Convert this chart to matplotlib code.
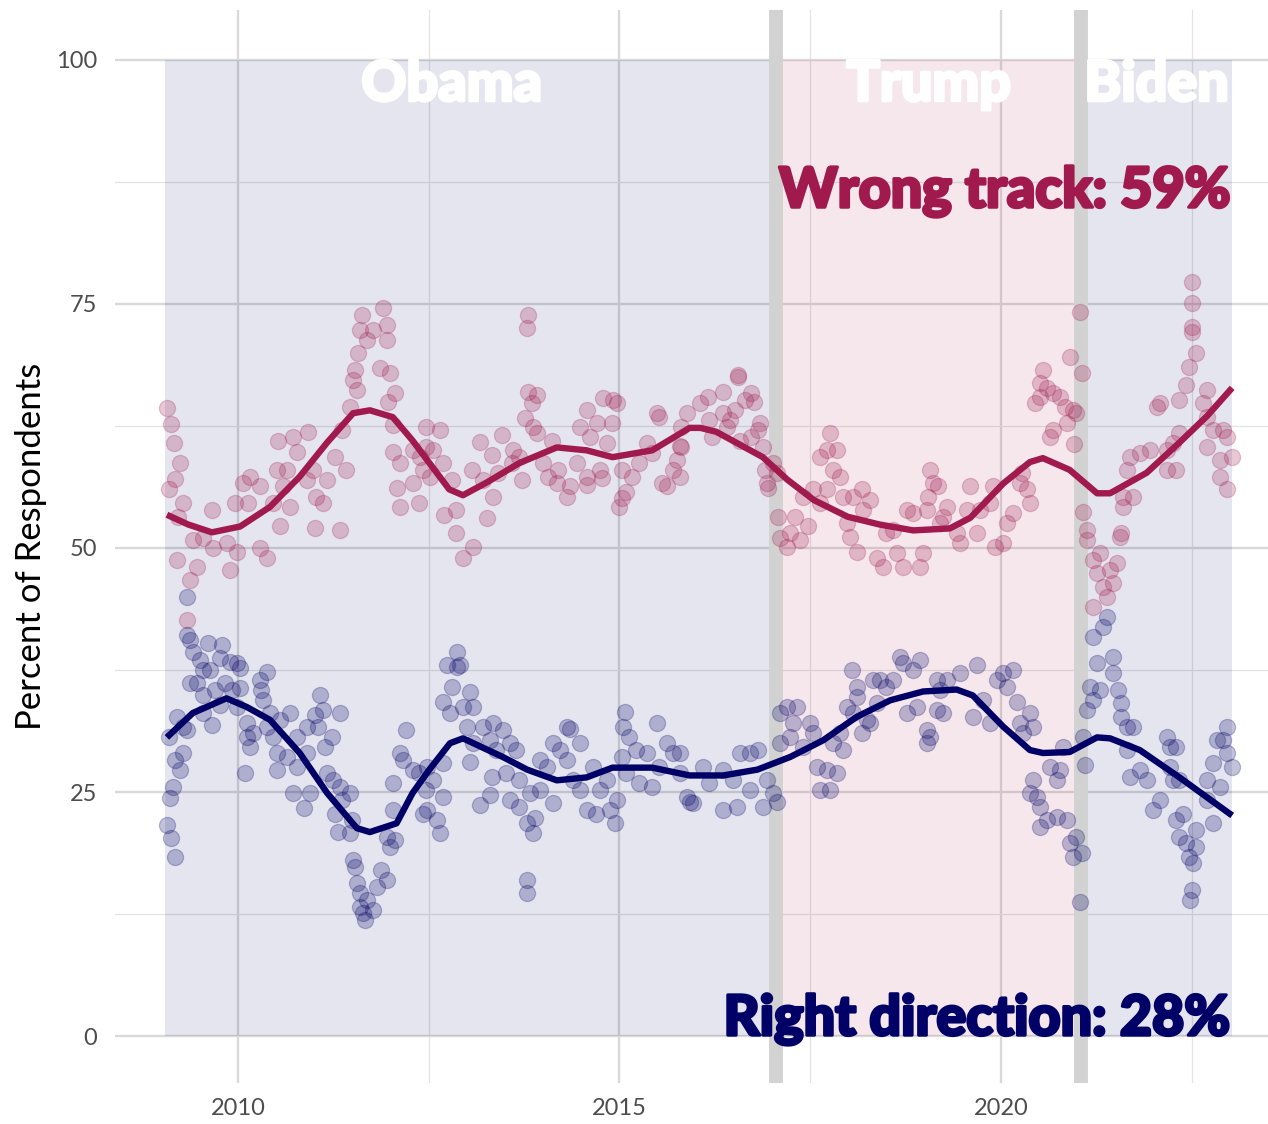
import numpy as np
import matplotlib.pyplot as plt
import matplotlib.patheffects as pe

# poll points: (year, percent)
wrong_points = [
    (2009.07, 64.3), (2009.10, 56.0), (2009.13, 62.7), (2009.16, 60.8), (2009.17, 57.1),
    (2009.20, 48.8), (2009.21, 53.2), (2009.24, 58.7), (2009.28, 54.6), (2009.34, 42.6),
    (2009.37, 46.7), (2009.41, 50.8), (2009.46, 48.0), (2009.54, 51.0), (2009.66, 53.9),
    (2009.67, 50.0), (2009.86, 50.5), (2009.90, 47.7), (2009.96, 54.6), (2009.99, 49.6),
    (2010.07, 56.7), (2010.13, 54.6), (2010.16, 57.3), (2010.29, 56.3), (2010.29, 50.0),
    (2010.38, 49.0), (2010.46, 54.6), (2010.51, 58.0), (2010.52, 61.0), (2010.55, 52.2),
    (2010.59, 56.3), (2010.65, 58.0), (2010.68, 54.2), (2010.72, 61.4), (2010.77, 59.8),
    (2010.90, 57.0), (2010.92, 61.9), (2010.98, 58.0), (2011.01, 52.0), (2011.03, 55.2),
    (2011.11, 54.6), (2011.17, 57.0), (2011.27, 59.3), (2011.34, 51.8), (2011.36, 62.1),
    (2011.42, 58.0), (2011.47, 64.4), (2011.51, 67.2), (2011.53, 68.2), (2011.56, 66.2),
    (2011.57, 70.0), (2011.60, 72.3), (2011.63, 73.9), (2011.69, 71.3), (2011.77, 72.3),
    (2011.86, 68.4), (2011.90, 74.6), (2011.95, 72.8), (2011.96, 71.3), (2011.97, 65.0),
    (2011.99, 67.9), (2012.03, 62.6), (2012.03, 59.8), (2012.06, 65.9), (2012.09, 56.1),
    (2012.12, 58.7), (2012.12, 54.2), (2012.29, 60.0), (2012.29, 56.7), (2012.38, 54.6),
    (2012.39, 59.3), (2012.42, 58.0), (2012.47, 60.3), (2012.47, 62.4), (2012.52, 57.3),
    (2012.56, 60.0), (2012.65, 62.1), (2012.69, 58.7), (2012.70, 53.4), (2012.80, 57.0),
    (2012.86, 53.9), (2012.86, 51.5), (2012.95, 49.0), (2013.07, 58.0), (2013.08, 50.1),
    (2013.17, 60.9), (2013.21, 57.0), (2013.26, 53.1), (2013.33, 59.5), (2013.34, 55.2),
    (2013.41, 57.7), (2013.46, 61.6), (2013.59, 58.7), (2013.60, 60.0), (2013.69, 59.3),
    (2013.72, 57.0), (2013.76, 63.3), (2013.79, 72.5), (2013.80, 73.9), (2013.80, 66.0),
    (2013.85, 64.8), (2013.87, 62.4), (2013.92, 65.7), (2013.92, 61.8), (2014.00, 58.7),
    (2014.06, 57.3), (2014.12, 61.0), (2014.18, 56.7), (2014.19, 58.0), (2014.31, 55.2),
    (2014.35, 56.3), (2014.44, 58.7), (2014.48, 62.4), (2014.57, 64.1), (2014.57, 57.3),
    (2014.58, 56.5), (2014.61, 61.4), (2014.71, 62.8), (2014.75, 58.0), (2014.77, 57.2),
    (2014.79, 65.4), (2014.84, 60.8), (2014.90, 62.8), (2014.92, 65.2), (2014.97, 64.8),
    (2015.00, 54.2), (2015.03, 55.1), (2015.04, 58.0), (2015.09, 55.7), (2015.17, 57.3),
    (2015.26, 58.7), (2015.36, 60.8), (2015.43, 59.7), (2015.49, 63.8), (2015.52, 63.4),
    (2015.56, 56.7), (2015.62, 56.3), (2015.70, 58.0), (2015.75, 59.0), (2015.79, 60.4),
    (2015.79, 57.3), (2015.81, 62.4), (2015.81, 60.3), (2015.88, 63.8), (2016.05, 64.8),
    (2016.16, 65.5), (2016.18, 63.1), (2016.22, 61.4), (2016.36, 66.0), (2016.36, 63.8),
    (2016.41, 62.4), (2016.45, 63.1), (2016.51, 64.1), (2016.55, 67.7), (2016.56, 67.5),
    (2016.58, 61.0), (2016.65, 65.2), (2016.72, 65.9), (2016.72, 61.4), (2016.76, 65.0),
    (2016.81, 62.1), (2016.84, 62.8), (2016.88, 60.3), (2016.91, 58.0), (2016.93, 56.7),
    (2016.95, 56.1), (2017.01, 58.7), (2017.06, 57.7), (2017.08, 53.2), (2017.10, 51.0),
    (2017.20, 50.1), (2017.24, 51.5), (2017.30, 53.2), (2017.37, 50.8), (2017.41, 55.2),
    (2017.47, 52.2), (2017.54, 56.0), (2017.63, 59.3), (2017.63, 54.6), (2017.72, 60.0),
    (2017.72, 56.0), (2017.76, 61.8), (2017.80, 58.0), (2017.85, 60.0), (2017.89, 57.3),
    (2017.93, 55.2), (2017.98, 52.6), (2018.02, 51.1), (2018.06, 55.2), (2018.11, 49.6),
    (2018.18, 56.0), (2018.19, 53.9), (2018.28, 54.9), (2018.38, 49.0), (2018.45, 48.1),
    (2018.50, 51.5), (2018.58, 51.8), (2018.64, 49.5), (2018.72, 48.1), (2018.77, 53.9),
    (2018.85, 53.6), (2018.94, 48.1), (2018.98, 49.5), (2019.03, 53.9), (2019.05, 55.2),
    (2019.07, 58.0), (2019.11, 56.7), (2019.18, 56.3), (2019.20, 52.6), (2019.24, 53.2),
    (2019.29, 54.2), (2019.42, 51.5), (2019.46, 50.5), (2019.55, 53.9), (2019.59, 56.3),
    (2019.69, 51.5), (2019.73, 53.9), (2019.86, 54.6), (2019.90, 56.3), (2019.92, 50.1),
    (2020.03, 50.5), (2020.08, 52.6), (2020.16, 53.6), (2020.25, 56.7), (2020.27, 57.7),
    (2020.34, 56.0), (2020.38, 54.6), (2020.45, 64.8), (2020.51, 65.5), (2020.51, 66.9),
    (2020.55, 68.2), (2020.60, 66.4), (2020.64, 61.4), (2020.68, 65.9), (2020.68, 62.1),
    (2020.77, 65.5), (2020.84, 64.4), (2020.86, 62.8), (2020.90, 69.6), (2020.94, 64.1),
    (2020.96, 60.6), (2020.99, 63.8), (2021.03, 74.2), (2021.06, 67.9), (2021.08, 53.7),
    (2021.13, 51.8), (2021.13, 50.8), (2021.21, 48.8), (2021.21, 44.0), (2021.26, 47.4),
    (2021.30, 49.5), (2021.34, 46.0), (2021.39, 45.0), (2021.43, 47.7), (2021.47, 46.4),
    (2021.52, 48.5), (2021.56, 51.1), (2021.58, 51.5), (2021.60, 54.2), (2021.60, 55.2),
    (2021.65, 58.0), (2021.69, 59.3), (2021.73, 55.2), (2021.82, 59.7), (2021.95, 60.0),
    (2022.04, 64.4), (2022.08, 64.8), (2022.17, 58.0), (2022.17, 60.0), (2022.25, 60.8),
    (2022.30, 58.0), (2022.34, 61.8), (2022.34, 65.2), (2022.43, 66.7), (2022.47, 68.5),
    (2022.50, 75.1), (2022.50, 77.2), (2022.51, 72.1), (2022.51, 72.6), (2022.56, 70.0),
    (2022.65, 64.8), (2022.70, 66.2), (2022.70, 63.4), (2022.70, 60.3), (2022.78, 62.1),
    (2022.87, 59.0), (2022.87, 57.3), (2022.91, 62.1), (2022.96, 61.4), (2022.96, 56.0),
    (2023.03, 59.3),
]

right_points = [
    (2009.07, 21.6), (2009.10, 30.6), (2009.11, 24.4), (2009.13, 20.3), (2009.15, 25.5),
    (2009.17, 18.3), (2009.18, 28.3), (2009.20, 32.7), (2009.24, 27.3), (2009.28, 31.7),
    (2009.28, 29.0), (2009.33, 45.0), (2009.33, 31.4), (2009.34, 41.1), (2009.37, 40.6),
    (2009.37, 36.2), (2009.41, 39.3), (2009.47, 36.2), (2009.50, 38.5), (2009.54, 37.5),
    (2009.54, 34.9), (2009.54, 33.1), (2009.61, 40.3), (2009.63, 37.5), (2009.66, 31.9),
    (2009.70, 35.5), (2009.76, 38.7), (2009.76, 33.9), (2009.79, 40.1), (2009.83, 36.2),
    (2009.90, 38.3), (2009.92, 35.5), (2009.99, 38.2), (2009.99, 33.7), (2010.03, 37.7),
    (2010.03, 35.7), (2010.09, 26.9), (2010.12, 32.1), (2010.12, 30.6), (2010.16, 29.6),
    (2010.20, 31.0), (2010.29, 36.5), (2010.30, 35.5), (2010.33, 34.4), (2010.38, 37.3),
    (2010.38, 31.7), (2010.42, 33.1), (2010.46, 30.6), (2010.51, 29.0), (2010.51, 27.3),
    (2010.55, 32.4), (2010.64, 28.6), (2010.68, 33.1), (2010.72, 24.9), (2010.77, 30.6),
    (2010.77, 27.6), (2010.87, 23.4), (2010.90, 31.7), (2010.90, 29.0), (2010.94, 24.9),
    (2011.01, 32.9), (2011.05, 31.7), (2011.07, 34.9), (2011.11, 33.4), (2011.14, 29.6),
    (2011.17, 26.9), (2011.23, 30.6), (2011.25, 26.2), (2011.27, 22.8), (2011.31, 20.9),
    (2011.34, 33.1), (2011.34, 25.5), (2011.36, 24.2), (2011.47, 24.9), (2011.47, 20.8),
    (2011.49, 22.1), (2011.51, 18.0), (2011.53, 17.3), (2011.56, 15.7), (2011.60, 14.7),
    (2011.60, 13.2), (2011.64, 12.6), (2011.66, 11.9), (2011.69, 13.9), (2011.77, 12.9),
    (2011.82, 15.3), (2011.88, 17.0), (2011.95, 16.0), (2011.95, 20.4), (2011.99, 19.4),
    (2012.03, 23.2), (2012.03, 25.9), (2012.06, 20.1), (2012.12, 29.0), (2012.16, 28.3),
    (2012.21, 31.4), (2012.29, 27.3), (2012.38, 26.9), (2012.42, 22.8), (2012.47, 25.2),
    (2012.48, 27.6), (2012.48, 23.2), (2012.56, 26.2), (2012.61, 22.1), (2012.65, 20.8),
    (2012.69, 24.5), (2012.69, 28.0), (2012.69, 34.2), (2012.74, 38.0), (2012.78, 33.1),
    (2012.80, 35.8), (2012.87, 39.3), (2012.87, 37.8), (2012.91, 38.0), (2012.95, 33.7),
    (2013.00, 31.7), (2013.04, 35.2), (2013.04, 28.1), (2013.08, 33.7), (2013.08, 30.0),
    (2013.17, 23.7), (2013.21, 31.7), (2013.30, 24.7), (2013.30, 30.3), (2013.33, 26.5),
    (2013.34, 32.1), (2013.38, 29.3), (2013.47, 31.4), (2013.52, 26.9), (2013.56, 30.0),
    (2013.56, 24.2), (2013.65, 29.3), (2013.69, 26.2), (2013.69, 23.5), (2013.79, 21.8),
    (2013.79, 16.0), (2013.79, 14.7), (2013.83, 24.9), (2013.87, 20.8), (2013.90, 22.3),
    (2013.96, 25.2), (2013.96, 28.3), (2014.05, 27.6), (2014.13, 23.9), (2014.13, 30.0),
    (2014.22, 29.3), (2014.31, 31.7), (2014.31, 28.3), (2014.35, 31.5), (2014.39, 26.2),
    (2014.48, 30.0), (2014.48, 25.2), (2014.57, 23.2), (2014.65, 27.6), (2014.70, 22.8),
    (2014.75, 25.2), (2014.84, 26.2), (2014.88, 23.2), (2014.94, 21.8), (2014.97, 24.2),
    (2015.03, 28.6), (2015.05, 31.7), (2015.07, 33.2), (2015.09, 26.9), (2015.13, 30.6),
    (2015.22, 29.3), (2015.26, 25.9), (2015.36, 29.0), (2015.43, 25.5), (2015.49, 32.1),
    (2015.52, 27.6), (2015.62, 30.0), (2015.70, 29.0), (2015.79, 26.9), (2015.79, 29.0),
    (2015.88, 24.5), (2015.92, 24.0), (2015.96, 23.9), (2016.09, 27.6), (2016.18, 25.9),
    (2016.36, 23.2), (2016.36, 27.3), (2016.49, 26.2), (2016.54, 23.5), (2016.58, 29.0),
    (2016.71, 29.0), (2016.71, 25.2), (2016.81, 29.3), (2016.88, 23.5), (2016.93, 26.2),
    (2017.01, 24.9), (2017.06, 24.0), (2017.10, 30.0), (2017.10, 33.1), (2017.20, 33.7),
    (2017.24, 30.6), (2017.28, 32.1), (2017.33, 33.7), (2017.41, 29.6), (2017.50, 32.1),
    (2017.54, 31.0), (2017.59, 27.6), (2017.63, 25.2), (2017.72, 27.3), (2017.76, 25.2),
    (2017.80, 30.0), (2017.85, 26.9), (2017.89, 31.0), (2017.93, 29.3), (2017.98, 33.7),
    (2018.05, 37.5), (2018.06, 33.1), (2018.11, 35.8), (2018.11, 34.7), (2018.18, 31.0),
    (2018.24, 32.4), (2018.28, 32.1), (2018.32, 36.5), (2018.37, 34.1), (2018.41, 36.5),
    (2018.50, 35.8), (2018.58, 36.5), (2018.68, 38.8), (2018.72, 38.2), (2018.77, 33.1),
    (2018.85, 37.5), (2018.90, 33.7), (2018.94, 38.5), (2019.03, 31.4), (2019.03, 30.0),
    (2019.07, 30.6), (2019.16, 36.5), (2019.16, 33.4), (2019.20, 35.5), (2019.24, 33.1),
    (2019.29, 36.5), (2019.46, 37.2), (2019.63, 32.7), (2019.69, 38.0), (2019.76, 34.4),
    (2019.86, 32.1), (2019.95, 36.5), (2020.03, 37.2), (2020.08, 35.8), (2020.16, 37.5),
    (2020.21, 34.2), (2020.25, 32.1), (2020.29, 31.0), (2020.38, 33.1), (2020.38, 24.9),
    (2020.42, 31.7), (2020.42, 26.2), (2020.47, 24.5), (2020.51, 23.5), (2020.51, 21.4),
    (2020.60, 22.1), (2020.64, 27.6), (2020.73, 26.2), (2020.73, 22.4), (2020.77, 27.3),
    (2020.81, 29.6), (2020.86, 22.1), (2020.90, 19.8), (2020.94, 18.3), (2020.99, 20.4),
    (2021.03, 13.7), (2021.06, 18.8), (2021.08, 30.6), (2021.10, 27.8), (2021.13, 33.4),
    (2021.17, 35.8), (2021.21, 34.4), (2021.21, 40.9), (2021.26, 38.2), (2021.30, 35.5),
    (2021.34, 41.9), (2021.39, 42.9), (2021.47, 38.8), (2021.47, 37.2), (2021.53, 35.5),
    (2021.58, 34.1), (2021.58, 32.7), (2021.65, 31.7), (2021.65, 29.3), (2021.69, 26.5),
    (2021.73, 31.7), (2021.82, 27.3), (2021.91, 26.2), (2021.99, 23.2), (2022.08, 24.2),
    (2022.17, 30.6), (2022.21, 29.6), (2022.21, 27.6), (2022.25, 26.2), (2022.29, 22.1),
    (2022.30, 29.6), (2022.33, 20.4), (2022.34, 26.2), (2022.38, 22.8), (2022.43, 19.8),
    (2022.47, 18.3), (2022.48, 13.9), (2022.50, 15.0), (2022.52, 17.7), (2022.56, 19.4),
    (2022.56, 21.1), (2022.70, 26.2), (2022.70, 24.2), (2022.78, 21.8), (2022.78, 28.0),
    (2022.83, 30.3), (2022.87, 25.5), (2022.91, 30.3), (2022.96, 31.7), (2022.96, 29.0),
    (2023.03, 27.6),
]

# smoothed trend lines
wrong_trend = [
    (2009.07, 53.4), (2009.35, 52.4), (2009.66, 51.6), (2010.03, 52.2), (2010.42, 54.2),
    (2010.81, 57.3), (2011.17, 60.8), (2011.51, 63.8), (2011.73, 64.1), (2012.03, 63.4),
    (2012.29, 61.0), (2012.51, 58.7), (2012.77, 56.0), (2012.95, 55.4), (2013.26, 56.7),
    (2013.69, 58.7), (2014.18, 60.3), (2014.57, 60.0), (2014.91, 59.3), (2015.43, 60.0),
    (2015.92, 62.3), (2016.06, 62.3), (2016.27, 61.9), (2016.88, 59.3), (2017.20, 57.0),
    (2017.55, 54.9), (2017.99, 53.2), (2018.41, 52.4), (2018.85, 51.8), (2019.33, 52.0),
    (2019.60, 53.1), (2020.03, 56.6), (2020.38, 58.8), (2020.55, 59.2), (2020.90, 58.0),
    (2021.26, 55.6), (2021.43, 55.6), (2021.91, 57.7), (2022.34, 60.8), (2022.70, 63.5),
    (2023.03, 66.4),
]

right_trend = [
    (2009.07, 30.6), (2009.41, 33.1), (2009.85, 34.6), (2010.12, 33.7), (2010.42, 32.4),
    (2010.81, 29.0), (2011.17, 24.9), (2011.56, 21.3), (2011.73, 20.9), (2012.08, 21.8),
    (2012.29, 24.9), (2012.51, 27.3), (2012.78, 30.0), (2012.95, 30.5), (2013.47, 28.6),
    (2013.79, 27.3), (2014.18, 26.2), (2014.57, 26.5), (2014.91, 27.5), (2015.43, 27.5),
    (2015.92, 26.7), (2016.36, 26.7), (2016.81, 27.3), (2017.24, 28.6), (2017.67, 30.3),
    (2018.11, 32.7), (2018.55, 34.4), (2018.98, 35.3), (2019.42, 35.5), (2019.63, 34.9),
    (2020.03, 31.7), (2020.38, 29.3), (2020.55, 29.0), (2020.90, 29.1), (2021.26, 30.6),
    (2021.43, 30.5), (2021.82, 29.3), (2022.34, 26.5), (2023.03, 22.6),
]

terms = ['Obama', 'Trump', 'Biden']
term_start = [2009.05, 2017.05, 2021.05]
term_end = [2017.05, 2021.05, 2023.03]
term_label_x = [2012.8, 2019.05, 2022.04]

wrong_color = '#A01A4E'
right_color = '#000066'
term_colors = [right_color, wrong_color, right_color]

plt.rcParams['font.family'] = ['Lato', 'DejaVu Sans']

fig = plt.figure(figsize=(12.68, 11.24), dpi=100)
ax = fig.add_axes([115 / 1268, 41 / 1124, 1153 / 1268, 1073 / 1124])
ax.set_xlim(2008.39, 2023.5)
ax.set_ylim(-4.8, 105.1)

# term shading
for start, end, col in zip(term_start, term_end, term_colors):
    ax.fill_betweenx([0, 100], start, end, color=col, alpha=0.1, lw=0, zorder=1)
for x in term_start[1:]:
    ax.axvline(x, color='#D2D2D2', lw=10, zorder=1.5)

for pts, col in [(wrong_points, wrong_color), (right_points, right_color)]:
    xs, ys = zip(*pts)
    ax.scatter(xs, ys, s=135, color=col, alpha=0.24, edgecolor=col, linewidth=0.9, zorder=2)

for tr, col in [(wrong_trend, wrong_color), (right_trend, right_color)]:
    xs, ys = zip(*tr)
    ax.plot(xs, ys, color=col, lw=4.6, solid_joinstyle='round', solid_capstyle='butt', zorder=3)


def heavy(col):
    return [pe.withStroke(linewidth=2.2, foreground=col)]


for name, x in zip(terms, term_label_x):
    ax.text(x, 100.0, name, ha='center', va='top', color='white',
            fontsize=40, fontweight='black', zorder=4, path_effects=heavy('white'))

ax.text(2023.0, 84.9, 'Wrong track: 59%', ha='right', va='baseline',
        color=wrong_color, fontsize=40, fontweight='black', zorder=4,
        path_effects=heavy(wrong_color))
ax.text(2023.0, 0.1, 'Right direction: 28%', ha='right', va='baseline',
        color=right_color, fontsize=40, fontweight='black', zorder=4,
        path_effects=heavy(right_color))

# axes styling, minimal theme
ax.set_xticks([2010, 2015, 2020])
ax.set_xticks([2012.5, 2017.5, 2022.5], minor=True)
ax.set_yticks([0, 25, 50, 75, 100])
ax.set_yticks([12.5, 37.5, 62.5, 87.5], minor=True)
ax.grid(True, which='major', color='#D9D9D9', lw=1.7)
ax.grid(True, which='minor', color='#E3E3E3', lw=0.9)
ax.set_axisbelow(True)
for s in ax.spines.values():
    s.set_visible(False)
ax.tick_params(which='both', length=0)
ax.tick_params(axis='y', labelsize=17, labelcolor='#4D4D4D', pad=13)
ax.tick_params(axis='x', labelsize=17, labelcolor='#4D4D4D', pad=11)
ax.set_ylabel('Percent of Respondents', fontsize=25, va='center')
ax.yaxis.set_label_coords(-0.073, 0.5)

fig.savefig('out.png', dpi=100)
